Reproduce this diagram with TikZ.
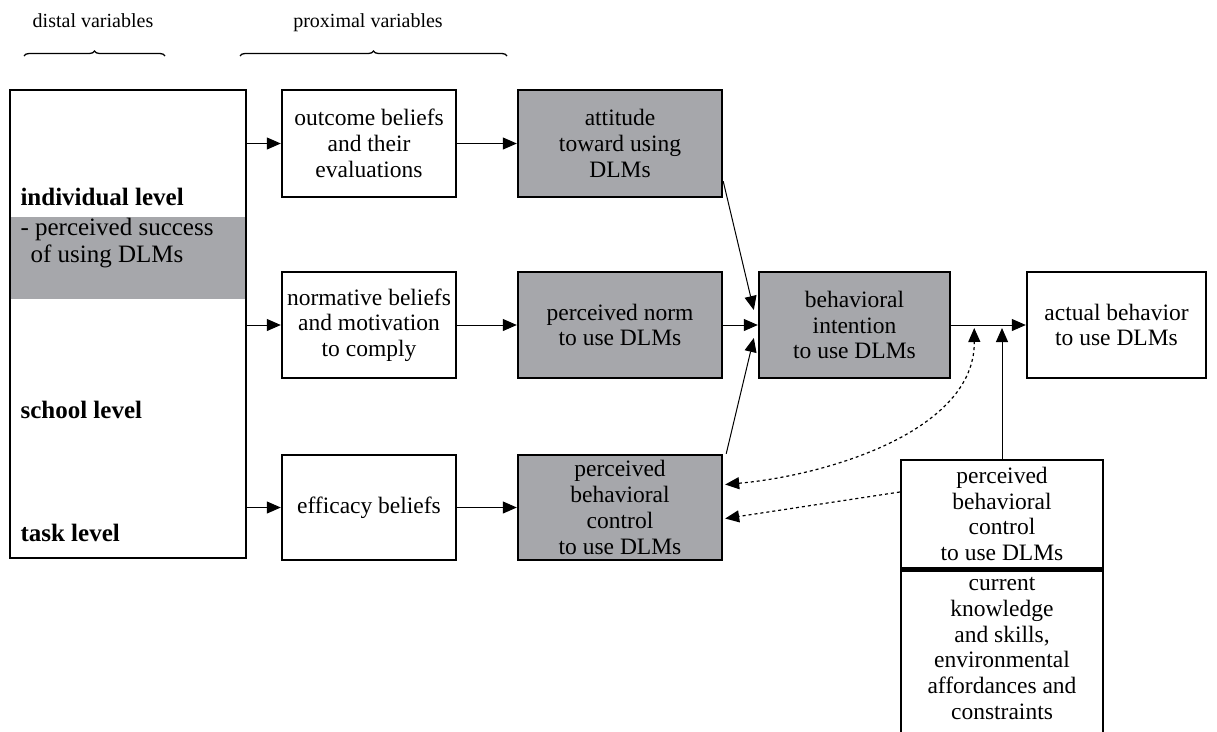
\documentclass[tikz,border=0pt]{standalone}
\usepackage{fontspec}
\setmainfont{Liberation Serif}
\usetikzlibrary{arrows.meta,decorations.pathreplacing,calc}
\definecolor{boxgrey}{RGB}{166,167,171}
\begin{document}
\begin{tikzpicture}[x=1pt,y=-1pt,
  txt/.style={font=\fontsize{23.5}{25.7}\selectfont},
  box/.style={draw,line width=2.4pt,inner sep=0pt,align=center,txt},
  gbox/.style={box,fill=boxgrey},
  arr/.style={-{Triangle[length=14pt,width=12pt]},line width=1pt},
  dotl/.style={line width=1.2pt,dash pattern=on 3pt off 3pt},
  lvl/.style={anchor=base west,font=\fontsize{25}{26}\selectfont},
  lvlb/.style={lvl,font=\fontsize{25}{26}\selectfont\bfseries},
  head/.style={anchor=base,font=\fontsize{20}{22}\selectfont},
  brc/.style={decorate,decoration={brace,amplitude=5pt,aspect=0.5},line width=1.3pt}]
\useasboundingbox (0,0) rectangle (1217,731);

% headings and braces
\node[head] (dist) at (93,27) {distal variables};
\node[head] (prox) at (368,27) {proximal variables};
\coordinate (d1) at (24,56); \coordinate (d2) at (165,56);
\coordinate (p1) at (240,56); \coordinate (p2) at (507,56);
\draw[brc] (d1) -- (d2);
\draw[brc] (p1) -- (p2);

% left level box
\fill[boxgrey] (11,217) rectangle (245,299);
\node[box,minimum width=236pt,minimum height=468pt] (lvlbox) at (128,324) {};
\node[lvlb] (ind) at (17,205) {individual level};
\node[lvl] (ps1) at (17,235) {- perceived success};
\node[lvl] (ps2) at (27,262) {of using DLMs};
\node[lvlb] (sch) at (17,418) {school level};
\node[lvlb] (tsk) at (17,541) {task level};

% row 1
\node[box,minimum width=174pt,minimum height=107pt] (ob) at (369,143.5) {outcome beliefs\\and their\\evaluations};
\node[gbox,minimum width=204pt,minimum height=107pt] (att) at (620,143.5) {attitude\\toward using\\DLMs};
% row 2
\node[box,minimum width=174pt,minimum height=106pt] (nb) at (369,325) {normative beliefs\\and motivation\\to comply};
\node[gbox,minimum width=204pt,minimum height=106pt] (pn) at (620,325) {perceived norm\\to use DLMs};
\node[gbox,minimum width=191pt,minimum height=106pt] (bi) at (854.5,325) {behavioral\\intention\\to use DLMs};
\node[box,minimum width=179pt,minimum height=106pt] (ab) at (1116.5,325) {actual behavior\\to use DLMs};
% row 3
\node[box,minimum width=174pt,minimum height=105pt] (eb) at (369,507.5) {efficacy beliefs};
\node[gbox,minimum width=204pt,minimum height=105pt] (pbc) at (620,507.5) {perceived\\behavioral\\control\\to use DLMs};
% right bottom
\node[box,minimum width=202pt,minimum height=108pt] (pbc2) at (1002,514) {perceived\\behavioral\\control\\to use DLMs};
\node[box,minimum width=202pt,minimum height=177pt,anchor=north] (ck) at (pbc2.south) {};
\node[txt,align=center,anchor=north,inner sep=0pt] (cktxt) at ($(pbc2.south)+(0,8)$) {current\\knowledge\\and skills,\\environmental\\affordances and\\constraints};

% arrows
\draw[arr] (lvlbox.east |- ob.west) -- (ob.west);
\draw[arr] (lvlbox.east |- nb.west) -- (nb.west);
\draw[arr] (lvlbox.east |- eb.west) -- (eb.west);
\draw[arr] (ob.east) -- (att.west);
\draw[arr] (nb.east) -- (pn.west);
\draw[arr] (eb.east) -- (pbc.west);
\draw[arr] ($(att.south east)+(0,-17)$) -- ($(bi.west)+(-4,-15)$);
\draw[arr] (pn.east) -- (bi.west);
\draw[arr] ($(pbc.north east)+(3,0)$) -- ($(bi.west)+(-4,13)$);
\draw[arr] (bi.east) -- (ab.west);
\draw[arr] (pbc2.north) -- ($(pbc2.north |- bi.east)+(0,3)$);
\draw[dotl,{Triangle[length=14pt,width=12pt]}-{Triangle[length=14pt,width=12pt]}]
  ($(pbc.east)+(2,-23)$) .. controls (830,475) and (975,430) .. ($(bi.east)+(23,3)$);
\draw[dotl,-{Triangle[length=14pt,width=12pt]}] ($(pbc2.west)+(0,-22)$) -- ($(pbc.east)+(2,11)$);
\end{tikzpicture}
\end{document}
